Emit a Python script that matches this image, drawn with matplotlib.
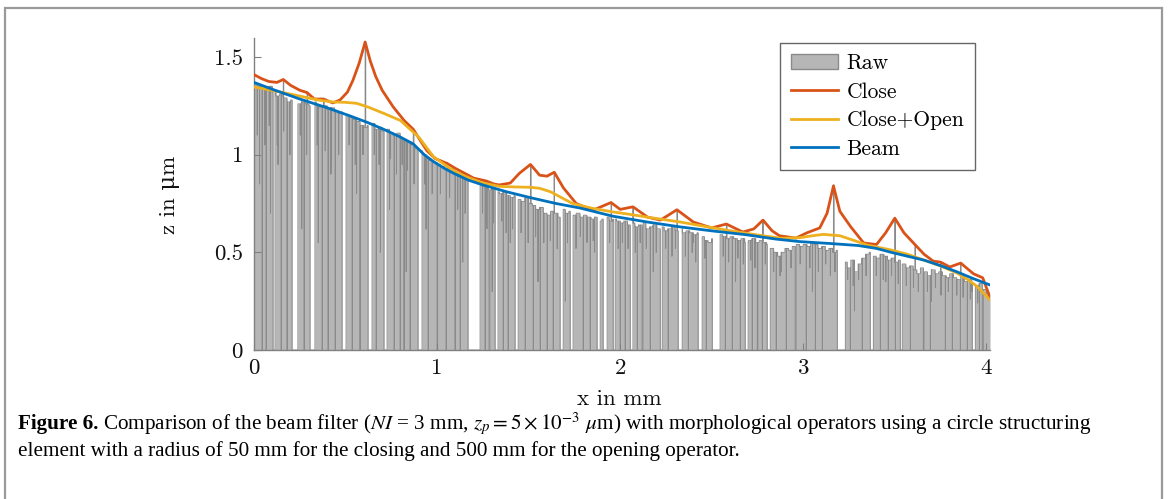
import numpy as np
import matplotlib
matplotlib.use("Agg")
import matplotlib.pyplot as plt
from matplotlib.patches import Patch, Rectangle
from matplotlib.lines import Line2D

plt.rcParams['font.family'] = ['cmr10', 'DejaVu Serif']
plt.rcParams['mathtext.fontset'] = 'cm'
plt.rcParams['axes.formatter.use_mathtext'] = True

# ---------------- data ----------------
x_ticks = [0, 1, 2, 3, 4]
x_ticklabels = ['0', '1', '2', '3', '4']
y_ticks = [0, 0.5, 1, 1.5]
y_ticklabels = ['0', '0.5', '1', '1.5']

# Raw profile: upper level sampled every 0.02 mm from x = 0 to 4.02 mm
raw_dx = 0.02
raw_level = [
    1.36, 1.35, 1.34, 1.33, 1.35, 1.32, 1.30, 1.31, 1.29, 1.27,
    1.28, 1.27, 1.26, 1.27, 1.26, 1.25, 1.27, 1.25, 1.24, 1.25,
    1.23, 1.24, 1.22, 1.21, 1.22, 1.20, 1.19, 1.18, 1.17, 1.15,
    1.14, 1.15, 1.16, 1.13, 1.14, 1.12, 1.13, 1.11, 1.10, 1.11,
    1.08, 1.07, 1.06, 1.05, 1.03, 1.02, 1.00, 0.98, 0.97, 0.96,
    0.95, 0.94, 0.93, 0.92, 0.93, 0.91, 0.90, 0.88, 0.87, 0.86,
    0.85, 0.84, 0.84, 0.83, 0.82, 0.83, 0.81, 0.80, 0.81, 0.79,
    0.78, 0.79, 0.77, 0.76, 0.78, 0.75, 0.74, 0.72, 0.73, 0.70,
    0.69, 0.71, 0.70, 0.68, 0.72, 0.70, 0.71, 0.69, 0.70, 0.68,
    0.69, 0.68, 0.67, 0.68, 0.66, 0.67, 0.68, 0.66, 0.67, 0.66,
    0.65, 0.66, 0.64, 0.65, 0.63, 0.64, 0.65, 0.62, 0.63, 0.64,
    0.62, 0.63, 0.61, 0.62, 0.63, 0.61, 0.62, 0.60, 0.61, 0.60,
    0.59, 0.60, 0.58, 0.56, 0.55, 0.57, 0.58, 0.59, 0.58, 0.57,
    0.58, 0.57, 0.56, 0.57, 0.55, 0.56, 0.57, 0.55, 0.56, 0.55,
    0.54, 0.52, 0.50, 0.48, 0.50, 0.52, 0.51, 0.53, 0.54, 0.53,
    0.54, 0.53, 0.55, 0.54, 0.52, 0.53, 0.51, 0.52, 0.50, 0.51,
    0.48, 0.45, 0.42, 0.46, 0.40, 0.44, 0.47, 0.49, 0.50, 0.48,
    0.47, 0.49, 0.48, 0.46, 0.47, 0.45, 0.46, 0.44, 0.42, 0.43,
    0.41, 0.39, 0.42, 0.40, 0.38, 0.41, 0.39, 0.40, 0.38, 0.37,
    0.39, 0.37, 0.36, 0.38, 0.35, 0.36, 0.34, 0.33, 0.34, 0.31,
    0.29, 0.28,
]
# dropout intervals (start, end) where raw is zero
raw_gaps = [
    (0.104, 0.115), (0.208, 0.240), (0.306, 0.333), (0.481, 0.503),
    (0.623, 0.645), (0.710, 0.727), (0.896, 0.918), (1.000, 1.005),
    (1.169, 1.235), (1.284, 1.290), (1.317, 1.333), (1.426, 1.443),
    (1.672, 1.689), (1.727, 1.743), (1.874, 1.891), (1.907, 1.929),
    (1.962, 1.973), (2.055, 2.071), (2.120, 2.126), (2.219, 2.230),
    (2.317, 2.339), (2.426, 2.448), (2.503, 2.546), (2.683, 2.699),
    (2.749, 2.754), (2.803, 2.820), (2.956, 2.962), (3.186, 3.230),
    (3.366, 3.383), (3.530, 3.541), (3.656, 3.661), (3.923, 3.940),
    (3.978, 3.984),
]
# single-sample dropouts to zero
raw_dips = [
    0.044, 0.066, 0.148, 0.180, 0.273, 0.372, 0.404, 0.443, 0.536, 0.579,
    0.667, 0.765, 0.798, 0.820, 0.852, 0.951, 1.049, 1.098, 1.126, 1.262,
    1.361, 1.388, 1.481, 1.525, 1.563, 1.601, 1.634, 1.798, 1.836, 2.000,
    2.027, 2.093, 2.164, 2.262, 2.372, 2.470, 2.574, 2.612, 2.656, 2.721,
    2.776, 2.852, 2.907, 3.016, 3.066, 3.104, 3.257, 3.322, 3.421, 3.464,
    3.503, 3.585, 3.694, 3.776, 3.814, 3.858, 3.896, 3.962,
]
# single-sample partial drops (x, lowest z)
raw_partial = [
    (0.03, 0.85), (0.09, 0.70), (0.13, 0.95), (0.26, 0.62), (0.35, 0.55),
    (0.42, 0.90), (0.56, 0.80), (0.69, 0.50), (0.74, 0.72), (0.83, 0.40),
    (0.94, 0.62), (1.14, 0.45), (1.30, 0.30), (1.40, 0.55), (1.55, 0.35),
    (1.70, 0.25), (1.86, 0.50), (2.18, 0.40), (2.40, 0.55), (2.63, 0.35),
    (2.88, 0.40), (3.05, 0.30), (3.28, 0.20), (3.45, 0.35), (3.70, 0.25),
    (3.92, 0.30),
    (0.017, 1.10), (0.058, 1.05), (0.082, 1.15), (0.126, 1.05), (0.162, 1.12),
    (0.195, 1.00), (0.252, 1.10), (0.287, 1.00), (0.344, 1.05), (0.388, 1.02),
    (0.418, 0.95), (0.462, 1.00), (0.519, 1.05), (0.552, 0.95), (0.594, 1.00),
    (0.656, 1.00), (0.682, 0.95), (0.745, 0.98), (0.778, 0.90), (0.808, 0.95),
    (0.838, 0.92), (0.873, 0.85), (0.932, 0.85), (0.972, 0.80), (1.018, 0.80),
    (1.068, 0.78), (1.112, 0.72), (1.152, 0.70), (1.248, 0.70), (1.272, 0.62),
    (1.306, 0.65), (1.352, 0.66), (1.376, 0.60), (1.412, 0.62), (1.458, 0.60),
    (1.496, 0.55), (1.538, 0.58), (1.582, 0.55), (1.618, 0.56), (1.655, 0.52),
    (1.712, 0.55), (1.758, 0.52), (1.782, 0.58), (1.818, 0.55), (1.852, 0.56),
    (1.942, 0.55), (1.988, 0.52), (2.012, 0.55), (2.042, 0.52), (2.082, 0.50),
    (2.108, 0.55), (2.142, 0.52), (2.196, 0.50), (2.248, 0.52), (2.282, 0.48),
    (2.302, 0.52), (2.356, 0.48), (2.392, 0.50), (2.412, 0.45), (2.462, 0.47),
    (2.562, 0.48), (2.592, 0.45), (2.642, 0.47), (2.672, 0.44), (2.712, 0.46),
    (2.735, 0.42), (2.792, 0.44), (2.838, 0.40), (2.872, 0.38), (2.932, 0.42),
    (2.982, 0.44), (3.035, 0.42), (3.082, 0.40), (3.122, 0.44), (3.148, 0.38),
    (3.172, 0.40), (3.242, 0.36), (3.272, 0.33), (3.302, 0.36), (3.342, 0.38),
    (3.398, 0.38), (3.436, 0.36), (3.482, 0.38), (3.518, 0.34), (3.562, 0.33),
    (3.602, 0.32), (3.628, 0.30), (3.678, 0.30), (3.722, 0.32), (3.752, 0.28),
    (3.792, 0.30), (3.838, 0.28), (3.872, 0.27), (3.912, 0.26), (3.952, 0.24),
]
# single-sample spikes (x, peak z)
raw_spikes = [
    (0.16, 1.38), (0.29, 1.316), (0.38, 1.28), (0.607, 1.577), (0.87, 1.126),
    (1.055, 0.957), (1.27, 0.86), (1.51, 0.947), (1.64, 0.906), (1.95, 0.753),
    (2.07, 0.732), (2.31, 0.717), (2.58, 0.645), (2.78, 0.665), (3.165, 0.845),
    (3.50, 0.675), (3.61, 0.537), (3.75, 0.45), (3.86, 0.445),
]

close_x = [0.00, 0.04, 0.08, 0.125, 0.16, 0.20, 0.25, 0.29, 0.33, 0.38, 0.43,
           0.47, 0.51, 0.54, 0.575, 0.607, 0.635, 0.665, 0.70, 0.76, 0.82,
           0.87, 0.91, 0.945, 0.99, 1.055, 1.10, 1.14, 1.20, 1.27, 1.31, 1.34,
           1.40, 1.45, 1.51, 1.56, 1.60, 1.64, 1.69, 1.76, 1.85, 1.95, 2.00,
           2.07, 2.15, 2.22, 2.31, 2.40, 2.50, 2.58, 2.67, 2.73, 2.78, 2.83,
           2.87, 2.96, 3.02, 3.09, 3.13, 3.165, 3.20, 3.26, 3.33, 3.40, 3.45,
           3.50, 3.55, 3.61, 3.66, 3.71, 3.75, 3.80, 3.86, 3.93, 3.98, 4.02]
close_z = [1.41, 1.39, 1.375, 1.37, 1.385, 1.355, 1.33, 1.318, 1.285, 1.285, 1.265,
           1.28, 1.32, 1.38, 1.47, 1.577, 1.48, 1.40, 1.33, 1.245, 1.175,
           1.13, 1.07, 1.02, 0.98, 0.955, 0.93, 0.91, 0.88, 0.865, 0.85, 0.845,
           0.855, 0.905, 0.95, 0.895, 0.89, 0.91, 0.83, 0.75, 0.715, 0.755, 0.72,
           0.733, 0.68, 0.665, 0.718, 0.655, 0.625, 0.645, 0.604, 0.62, 0.665, 0.61,
           0.585, 0.573, 0.60, 0.625, 0.70, 0.84, 0.71, 0.63, 0.548, 0.54, 0.60,
           0.675, 0.60, 0.54, 0.49, 0.455, 0.45, 0.425, 0.445, 0.39, 0.37, 0.27]

open_x = [0.00, 0.15, 0.25, 0.35, 0.43, 0.50, 0.56, 0.62, 0.70, 0.80, 0.90,
          0.98, 1.07, 1.15, 1.25, 1.34, 1.42, 1.51, 1.56, 1.62, 1.68, 1.74,
          1.85, 1.96, 2.05, 2.15, 2.33, 2.51, 2.65, 2.78, 2.88, 2.98, 3.05,
          3.11, 3.20, 3.28, 3.35, 3.48, 3.57, 3.66, 3.75, 3.84, 3.90, 3.95, 4.02]
open_z = [1.347, 1.32, 1.30, 1.28, 1.27, 1.268, 1.263, 1.245, 1.215, 1.175, 1.09,
          0.99, 0.93, 0.89, 0.855, 0.838, 0.835, 0.833, 0.828, 0.81, 0.78, 0.75,
          0.725, 0.707, 0.695, 0.68, 0.655, 0.625, 0.603, 0.585, 0.572, 0.575, 0.585,
          0.592, 0.585, 0.56, 0.537, 0.512, 0.49, 0.46, 0.43, 0.394, 0.36, 0.325, 0.256]

beam_x = [0.00, 0.10, 0.25, 0.40, 0.52, 0.62, 0.72, 0.80, 0.87, 0.93, 0.98,
          1.04, 1.09, 1.17, 1.25, 1.38, 1.51, 1.65, 1.78, 1.96, 2.15, 2.33,
          2.50, 2.69, 2.85, 2.98, 3.15, 3.30, 3.40, 3.48, 3.57, 3.66, 3.75,
          3.84, 3.93, 4.02]
beam_z = [1.37, 1.335, 1.285, 1.24, 1.20, 1.165, 1.125, 1.09, 1.055, 1.00, 0.965,
          0.93, 0.905, 0.87, 0.845, 0.81, 0.78, 0.75, 0.727, 0.685, 0.655, 0.63,
          0.61, 0.59, 0.568, 0.555, 0.545, 0.535, 0.52, 0.50, 0.48, 0.46, 0.432,
          0.40, 0.365, 0.333]

# ---------------- assemble raw step series ----------------
raw_x0 = np.arange(len(raw_level)) * raw_dx
raw_z0 = np.array(raw_level)


def level_at(x):
    for a, b in raw_gaps:
        if a <= x < b:
            return 0.0
    i = int(np.searchsorted(raw_x0, x, side='right')) - 1
    i = min(max(i, 0), len(raw_z0) - 1)
    return float(raw_z0[i])


pts = []
for x, z in zip(raw_x0, raw_z0):
    inside = any(a <= x < b for a, b in raw_gaps)
    pts.append((float(x), 0.0 if inside else float(z)))
for a, b in raw_gaps:
    pts.append((a, 0.0))
    pts.append((b, level_at(b)))
W = 0.0028
for d in raw_dips:
    pts.append((d, 0.0))
    pts.append((d + W, level_at(d + W)))
for d, lo in raw_partial:
    pts.append((d, min(lo, level_at(d))))
    pts.append((d + W, level_at(d + W)))
for s, pk in raw_spikes:
    pts.append((s, pk))
    pts.append((s + W, level_at(s + W)))
pts.sort(key=lambda p: p[0])
raw_x = np.array([p[0] for p in pts])
raw_z = np.array([p[1] for p in pts])

# ---------------- figure ----------------
fig = plt.figure(figsize=(11.68, 4.99), dpi=100)
ax = fig.add_axes([254 / 1168, 149 / 499, 736 / 1168, 312.5 / 499])

c_raw_fill = '#b6b6b6'
c_raw_line = '#8a8a8a'
c_close = '#D95319'
c_open = '#EDB120'
c_beam = '#0072BD'

ax.fill_between(raw_x, raw_z, 0, step='post', color=c_raw_fill, lw=0, zorder=1)
ax.plot(raw_x, raw_z, drawstyle='steps-post', color=c_raw_line, lw=0.7, zorder=1.5)
ax.plot(close_x, close_z, color=c_close, lw=2.0, zorder=3, solid_joinstyle='round')
ax.plot(open_x, open_z, color=c_open, lw=2.0, zorder=3.1)
ax.plot(beam_x, beam_z, color=c_beam, lw=2.0, zorder=3.2)

ax.set_xlim(0, 4.02)
ax.set_ylim(0, 1.6)
ax.set_xticks(x_ticks)
ax.set_xticklabels(x_ticklabels)
ax.set_yticks(y_ticks)
ax.set_yticklabels(y_ticklabels)
for s in ['top', 'right']:
    ax.spines[s].set_visible(False)
for s in ['left', 'bottom']:
    ax.spines[s].set_color('#808080')
    ax.spines[s].set_linewidth(1.0)
ax.tick_params(direction='in', length=5, width=0.8, color='#808080',
               labelsize=16.5, labelcolor='#111111')
ax.tick_params(axis='x', pad=6)
ax.tick_params(axis='y', pad=8)

ax.set_xlabel('x in mm', fontsize=16.5, color='#111111')
ax.set_ylabel('z in μm', fontsize=16.5, color='#111111')
ax.xaxis.set_label_coords(0.497, -0.125)
ax.yaxis.set_label_coords(-0.1005, 0.496)

handles = [Patch(facecolor=c_raw_fill, edgecolor=c_raw_line, lw=1.0),
           Line2D([], [], color=c_close, lw=2.0),
           Line2D([], [], color=c_open, lw=2.0),
           Line2D([], [], color=c_beam, lw=2.0)]
leg = ax.legend(handles, ['Raw', 'Close', 'Close+Open', 'Beam'],
                loc='upper right', bbox_to_anchor=(0.98, 0.983), borderaxespad=0,
                fontsize=15.5, fancybox=False, framealpha=1, edgecolor='#666666',
                labelspacing=0.42, handlelength=2.2, handletextpad=0.4,
                borderpad=0.5)
leg.get_frame().set_linewidth(1.0)

# outer frame
fig.patches.append(Rectangle((5 / 1168, -0.05), 1157 / 1168, 0.983 + 0.05,
                             transform=fig.transFigure, fill=False,
                             edgecolor='#9a9a9a', lw=1.6))

# caption
cap_fs = 15.2
t1 = fig.text(18 / 1168, 1 - 424 / 499, 'Figure 6.', fontsize=cap_fs,
              fontweight='bold', family='Liberation Serif', va='center', ha='left')
ax.annotate(r' Comparison of the beam filter ($NI$ = 3 mm, $z_p = 5 \times 10^{-3}$ $\mu$m) '
            'with morphological operators using a circle structuring',
            xy=(1, 0.5), xycoords=t1, va='center', ha='left', fontsize=cap_fs,
            family='Liberation Serif', math_fontfamily='stix', annotation_clip=False)
fig.text(18 / 1168, 1 - 451 / 499,
         'element with a radius of 50 mm for the closing and 500 mm for the opening operator.',
         fontsize=cap_fs, family='Liberation Serif', va='center', ha='left')

fig.savefig('out.png', dpi=100)
